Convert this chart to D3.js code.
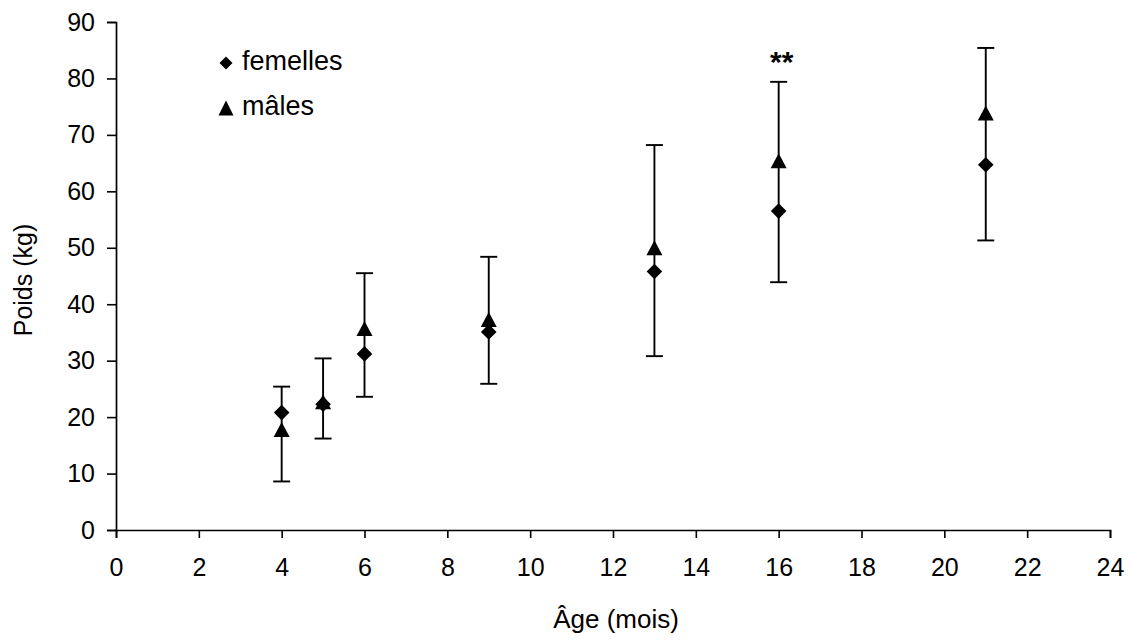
<!DOCTYPE html>
<html>
<head>
<meta charset="utf-8">
<script src="https://cdn.jsdelivr.net/npm/d3@7"></script>
<style>
  html, body { margin: 0; padding: 0; background: #fff; }
  svg { display: block; }
  text { font-family: "Liberation Sans", Arial, sans-serif; fill: #000; }
</style>
</head>
<body>
<svg id="chart" width="1133" height="641"></svg>
<script>
// ---- data ----
const ages = [4, 5, 6, 9, 13, 16, 21];
const femelles = [20.8, 22.3, 31.2, 35.1, 45.8, 56.5, 64.7];
const males = [17.8, 22.7, 35.7, 37.3, 50.0, 65.4, 73.9];
const whiskerTop = [25.4, 30.4, 45.5, 48.4, 68.2, 79.4, 85.4];
const whiskerBottom = [8.6, 16.2, 23.6, 25.9, 30.8, 43.9, 51.3];
const xTicks = [0, 2, 4, 6, 8, 10, 12, 14, 16, 18, 20, 22, 24];
const yTicks = [0, 10, 20, 30, 40, 50, 60, 70, 80, 90];
const seriesNames = ["femelles", "mâles"];
const annotation = { age: 16, value: 84, label: "**" };

// ---- layout ----
const svg = d3.select("#chart");
const x = d3.scaleLinear().domain([0, 24]).range([116, 1110]);
const y = d3.scaleLinear().domain([0, 90]).range([530, 22]);

const diamond = (s) => `M0,${-s}L${s},0L0,${s}L${-s},0Z`;
const triangle = (w, h) => `M0,${-h / 2}L${w / 2},${h / 2}L${-w / 2},${h / 2}Z`;

// axes
const yAxis = svg.append("g")
  .attr("transform", `translate(${x(0)},0)`)
  .call(d3.axisLeft(y).tickValues(yTicks).tickSize(9).tickPadding(12).tickFormat(d3.format("d")));
const xAxis = svg.append("g")
  .attr("transform", `translate(0,${y(0)})`)
  .call(d3.axisBottom(x).tickValues(xTicks).tickSize(8).tickPadding(20).tickFormat(d3.format("d")));

[yAxis, xAxis].forEach(g => {
  g.select(".domain").attr("stroke", "#000").attr("stroke-width", 1.7);
  g.selectAll(".tick line").attr("stroke", "#000").attr("stroke-width", 1.6);
  g.selectAll(".tick text").attr("font-size", 25).attr("font-family", "Liberation Sans, Arial, sans-serif").attr("fill", "#000");
});

// axis titles
svg.append("text")
  .attr("x", (x(0) + x(24)) / 2 + 3)
  .attr("y", 628)
  .attr("text-anchor", "middle")
  .attr("font-size", 26)
  .text("Âge (mois)");
svg.append("text")
  .attr("transform", `translate(32,${y(45) + 4}) rotate(-90)`)
  .attr("text-anchor", "middle")
  .attr("font-size", 25)
  .text("Poids (kg)");

// error bars
const eb = svg.append("g").attr("stroke", "#000").attr("stroke-width", 1.9);
ages.forEach((a, i) => {
  const cx = x(a);
  eb.append("line").attr("x1", cx).attr("x2", cx).attr("y1", y(whiskerBottom[i])).attr("y2", y(whiskerTop[i]));
  eb.append("line").attr("x1", cx - 8.5).attr("x2", cx + 8.5).attr("y1", y(whiskerTop[i])).attr("y2", y(whiskerTop[i]));
  eb.append("line").attr("x1", cx - 8.5).attr("x2", cx + 8.5).attr("y1", y(whiskerBottom[i])).attr("y2", y(whiskerBottom[i]));
});

// markers
svg.append("g").selectAll("path").data(ages).join("path")
  .attr("transform", (d, i) => `translate(${x(d)},${y(femelles[i])})`)
  .attr("d", diamond(7.8))
  .attr("fill", "#000");
svg.append("g").selectAll("path").data(ages).join("path")
  .attr("transform", (d, i) => `translate(${x(d)},${y(males[i])})`)
  .attr("d", triangle(16, 15))
  .attr("fill", "#000");

// annotation
svg.append("text")
  .attr("x", x(annotation.age) + 3)
  .attr("y", y(annotation.value) + 16)
  .attr("text-anchor", "middle")
  .attr("font-size", 30)
  .attr("font-weight", "bold")
  .text(annotation.label);

// legend
const lg = svg.append("g");
lg.append("path").attr("transform", "translate(226,63)").attr("d", diamond(6.5)).attr("fill", "#000");
lg.append("text").attr("x", 242).attr("y", 70).attr("font-size", 27).text(seriesNames[0]);
lg.append("path").attr("transform", "translate(226,108)").attr("d", triangle(15, 15)).attr("fill", "#000");
lg.append("text").attr("x", 242).attr("y", 115).attr("font-size", 27).text(seriesNames[1]);
</script>
</body>
</html>
